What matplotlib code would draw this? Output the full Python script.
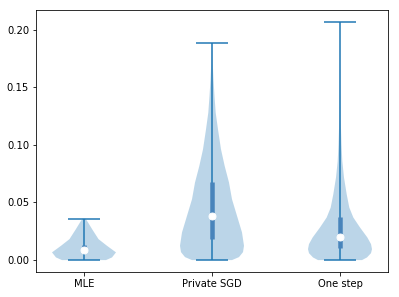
import numpy as np
import matplotlib
matplotlib.use("Agg")
import matplotlib.pyplot as plt

# ---- data
labels = ["MLE", "Private SGD", "One step"]

# density outline (relative half-width) at given values, per group
mle_coords = [0.0, 0.0023, 0.0067, 0.0124, 0.0182, 0.027, 0.0327, 0.036]
mle_dens = [22, 28, 32, 23, 14.5, 8, 4, 1.5]

sgd_coords = [0.0, 0.0026, 0.0069, 0.0124, 0.024, 0.0384, 0.0528, 0.0673,
              0.0816, 0.0961, 0.1134, 0.1279, 0.1423, 0.1567, 0.1714, 0.188]
sgd_dens = [20, 27, 31, 32, 30, 25, 20, 17, 12.7, 9, 6, 3.7, 2.5, 1.5, 0.7, 0.3]

one_coords = [0.0, 0.0023, 0.006, 0.0095, 0.0139, 0.0197, 0.0283, 0.037,
              0.0456, 0.0571, 0.0716, 0.086, 0.1004, 0.122, 0.148, 0.174, 0.2067]
one_dens = [22, 27, 31, 32, 31, 27.3, 20, 13.3, 9.3, 6.7, 4, 2.3, 1.5, 0.7, 0.4, 0.2, 0.1]

mins = [0.0, 0.0, 0.0]
maxs = [0.036, 0.188, 0.2067]
medians = [0.009, 0.0384, 0.0202]
q1 = [0.006, 0.0182, 0.0101]
q3 = [0.013, 0.0678, 0.037]

coords = [mle_coords, sgd_coords, one_coords]
dens = [mle_dens, sgd_dens, one_dens]

vpstats = []
for c, d, lo, hi, med in zip(coords, dens, mins, maxs, medians):
    vpstats.append({"coords": np.array(c), "vals": np.array(d, dtype=float),
                    "mean": med, "median": med, "min": lo, "max": hi})

fig = plt.figure(figsize=(399 / 72, 297 / 72), dpi=72)
ax = fig.add_axes([36 / 399, 25 / 297, 352 / 399, 262 / 297])

pos = [1, 2, 3]
parts = ax.violin(vpstats, positions=pos, widths=0.5, showextrema=True)
for body in parts["bodies"]:
    body.set_facecolor("C0")
    body.set_edgecolor("none")
    body.set_alpha(0.3)

ax.vlines(pos, q1, q3, color="#4884bb", lw=4.5, zorder=2)
ax.scatter(pos, medians, marker="o", color="white", s=48, zorder=3)

ax.set_xticks(pos, labels)
fig.savefig("out.png", dpi=72)
